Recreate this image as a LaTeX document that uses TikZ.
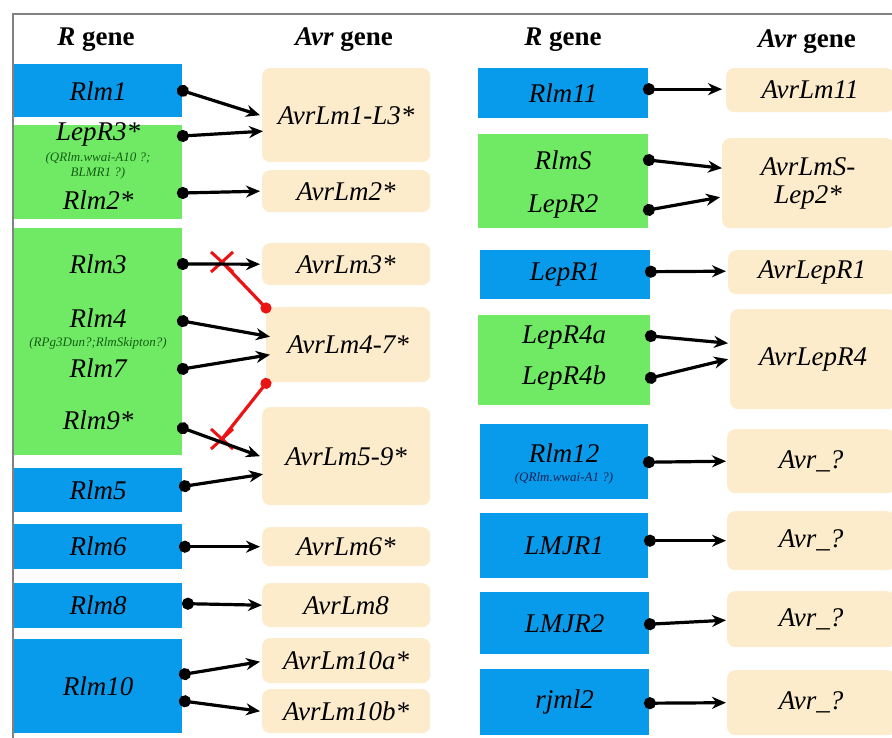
\documentclass[tikz,border=0pt]{standalone}
\usepackage{fontspec}
\setmainfont{Liberation Serif}
\usetikzlibrary{arrows.meta,calc}
\definecolor{rblue}{RGB}{8,155,236}
\definecolor{rgreen}{RGB}{112,234,100}
\definecolor{avrbg}{RGB}{253,236,204}
\definecolor{smallgreen}{RGB}{20,95,20}
\definecolor{smallblue}{RGB}{10,35,80}
\definecolor{framegray}{RGB}{130,130,130}
\definecolor{xred}{RGB}{235,20,20}
\begin{document}
\begin{tikzpicture}[x=1pt,y=-1pt,
  bigtext/.style={font=\fontsize{27}{30}\selectfont\itshape},
  smalltext/.style={font=\fontsize{13}{14.5}\selectfont\itshape, align=center, inner sep=0pt},
  hdr/.style={font=\fontsize{27}{30}\selectfont\bfseries},
  rbluebox/.style={fill=rblue, draw=none, anchor=north west, minimum width=168pt, inner sep=0pt, bigtext},
  rgreenbox/.style={fill=rgreen, draw=none, anchor=north west, minimum width=168pt, inner sep=0pt},
  avrbox/.style={fill=avrbg, draw=none, rounded corners=8pt, anchor=north west, minimum width=168pt, inner sep=0pt, bigtext, align=center},
  link/.style={draw=black, line width=3.2pt, shorten <=-5.5pt, {Circle[length=12pt,width=12pt]}-{Stealth[length=14pt,width=12pt]}},
  nolink/.style={draw=xred, line width=3.2pt, shorten >=-5.5pt, -{Circle[length=11pt,width=11pt]}},
  xmark/.style={draw=xred, line width=3pt}
]
\useasboundingbox (0,0) rectangle (892,738);
\fill[white] (0,0) rectangle (892,738);
\draw[framegray, line width=1.3pt] (892,14) -- (13,14) -- (13,738);

% headers
\node[hdr] (h1) at (96,40) {\textit{R} gene};
\node[hdr] (h2) at (344,40) {\textit{Avr} gene};
\node[hdr] (h3) at (563,40) {\textit{R} gene};
\node[hdr] (h4) at (807,42) {\textit{Avr} gene};

% ---------- left R genes ----------
\node[rbluebox, minimum height=53pt] (rlm1) at (14,64) {Rlm1};
\node[rgreenbox, minimum height=94pt] (g1) at (14,125) {};
\node[bigtext] (tlepr3) at (98,134) {LepR3*};
\node[smalltext, text=smallgreen] (tq10) at (98,166) {(QRlm.wwai-A10 ?;\\BLMR1 ?)};
\node[bigtext] (trlm2) at (98,200) {Rlm2*};
\node[rgreenbox, minimum height=227pt] (g2) at (14,228) {};
\node[bigtext] (trlm3) at (98,264) {Rlm3};
\node[bigtext] (trlm4) at (98,318) {Rlm4};
\node[smalltext, text=smallgreen] (trpg) at (98,343) {(RPg3Dun?;RlmSkipton?)};
\node[bigtext] (trlm7) at (98,368) {Rlm7};
\node[bigtext] (trlm9) at (98,420) {Rlm9*};
\node[rbluebox, minimum height=44pt] (rlm5) at (14,468) {Rlm5};
\node[rbluebox, minimum height=45pt] (rlm6) at (14,524) {Rlm6};
\node[rbluebox, minimum height=45pt] (rlm8) at (14,583) {Rlm8};
\node[rbluebox, minimum height=94pt] (rlm10) at (14,639) {Rlm10};

% ---------- left Avr genes ----------
\node[avrbox, minimum height=94pt] (a1) at (262,68) {AvrLm1-L3*};
\node[avrbox, minimum height=42pt] (a2) at (262,170) {AvrLm2*};
\node[avrbox, minimum height=42pt] (a3) at (262,243) {AvrLm3*};
\node[avrbox, minimum height=75pt, minimum width=164pt] (a47) at (266,307) {AvrLm4-7*};
\node[avrbox, minimum height=98pt] (a59) at (262,407) {AvrLm5-9*};
\node[avrbox, minimum height=39pt] (a6) at (262,527) {AvrLm6*};
\node[avrbox, minimum height=44pt] (a8) at (262,583) {AvrLm8};
\node[avrbox, minimum height=45pt] (a10a) at (262,638) {AvrLm10a*};
\node[avrbox, minimum height=44pt] (a10b) at (262,689) {AvrLm10b*};

% ---------- right R genes ----------
\node[rbluebox, minimum height=50pt, minimum width=170pt] (rlm11) at (478,68) {Rlm11};
\node[rgreenbox, minimum height=94pt, minimum width=170pt] (gS) at (478,134) {};
\node[bigtext] (trlms) at (563,160) {RlmS};
\node[bigtext] (tlepr2) at (563,206) {LepR2};
\node[rbluebox, minimum height=49pt, minimum width=170pt] (lepr1) at (480,250) {LepR1};
\node[rgreenbox, minimum height=90pt, minimum width=172pt] (g4) at (478,315) {};
\node[bigtext] (tlepr4a) at (564,337) {LepR4a};
\node[bigtext] (tlepr4b) at (564,378) {LepR4b};
\node[rbluebox, minimum height=75pt] (rlm12) at (480,424) {};
\node[bigtext] (trlm12) at (564,453) {Rlm12};
\node[smalltext, text=smallblue] (tqa1) at (564,478) {(QRlm.wwai-A1 ?)};
\node[rbluebox, minimum height=65pt] (lmjr1) at (480,513) {LMJR1};
\node[rbluebox, minimum height=62pt, minimum width=169pt] (lmjr2) at (480,592) {LMJR2};
\node[rbluebox, minimum height=66pt, minimum width=169pt] (rjml2) at (480,669) {rjml2};

% ---------- right Avr genes ----------
\node[avrbox, minimum height=44pt] (b11) at (726,68) {AvrLm11};
\node[avrbox, minimum height=90pt, minimum width=172pt] (bS) at (722,138) {AvrLmS-\\[-2pt]Lep2*};
\node[avrbox, minimum height=44pt] (b1) at (728,250) {AvrLepR1};
\node[avrbox, minimum height=100pt, minimum width=166pt] (b4) at (730,309) {AvrLepR4};
\node[avrbox, minimum height=64pt] (q1) at (727,429) {Avr\_?};
\node[avrbox, minimum height=59pt] (q2) at (727,511) {Avr\_?};
\node[avrbox, minimum height=56pt] (q3) at (727,591) {Avr\_?};
\node[avrbox, minimum height=65pt] (q4) at (727,670) {Avr\_?};

% ---------- red "no interaction" marks ----------
\coordinate (x1) at (222,262);
\coordinate (x2) at (222,439);
\draw[nolink] (x1) -- ($(a47.north west)+(0,1)$);
\draw[nolink] (x2) -- ($(a47.south west)+(0,1)$);
\draw[xmark] ($(x1)+(-11,-10)$) -- ($(x1)+(11,10)$);
\draw[xmark] ($(x1)+(-11,10)$) -- ($(x1)+(11,-10)$);
\draw[xmark] ($(x2)+(-11,-10)$) -- ($(x2)+(11,10)$);
\draw[xmark] ($(x2)+(-11,10)$) -- ($(x2)+(11,-10)$);

% ---------- left connectors ----------
\draw[link] ($(rlm1.east)+(0,0)$) -- ($(a1.west)+(-2,0)$);
\draw[link] ($(g1.east |- tlepr3)+(0,2)$) -- ($(a1.west)+(1,16)$);
\draw[link] ($(g1.east |- trlm2)+(0,-7)$) -- ($(a2.west)+(-2,0)$);
\draw[link] (g2.east |- trlm3) -- ($(a3.west)+(-2,0)$);
\draw[link] ($(g2.east |- trlm4)+(0,3)$) -- ($(a47.west)+(4,-8)$);
\draw[link] ($(g2.east |- trlm7)+(0,1)$) -- ($(a47.west)+(4,10)$);
\draw[link] ($(g2.east |- trlm9)+(0,8)$) -- ($(a59.west)+(-2,0)$);
\draw[link] ($(rlm5.east)+(2,-4)$) -- ($(a59.west)+(1,18)$);
\draw[link] ($(rlm6.east)+(2,0)$) -- ($(a6.west)+(-2,0)$);
\draw[link] ($(rlm8.east)+(5,-2)$) -- ($(a8.west)+(0,0)$);
\draw[link] ($(rlm10.east)+(2,-12)$) -- ($(a10a.west)+(-2,1)$);
\draw[link] ($(rlm10.east)+(2,15)$) -- ($(a10b.west)+(-2,0)$);

% ---------- right connectors ----------
\draw[link] ($(rlm11.east)+(0,-4)$) -- ($(b11.west)+(-4,-1)$);
\draw[link] (gS.east |- trlms) -- ($(bS.west)+(0,-15)$);
\draw[link] ($(gS.east |- tlepr2)+(0,4)$) -- ($(bS.west)+(-2,14)$);
\draw[link] ($(lepr1.east)+(0,-3)$) -- ($(b1.west)+(-2,-1)$);
\draw[link] ($(g4.east |- tlepr4a)+(0,-1)$) -- ($(b4.west)+(-2,-16)$);
\draw[link] (g4.east |- tlepr4b) -- ($(b4.west)+(-2,0)$);
\draw[link] ($(rlm12.east)+(0,0.5)$) -- ($(q1.west)+(-1,0)$);
\draw[link] ($(lmjr1.east)+(1,-5)$) -- ($(q2.west)+(-1,0)$);
\draw[link] ($(lmjr2.east)+(0,1)$) -- ($(q3.west)+(-1,1)$);
\draw[link] ($(rjml2.east)+(0,1)$) -- ($(q4.west)+(-1,0)$);
\end{tikzpicture}
\end{document}
